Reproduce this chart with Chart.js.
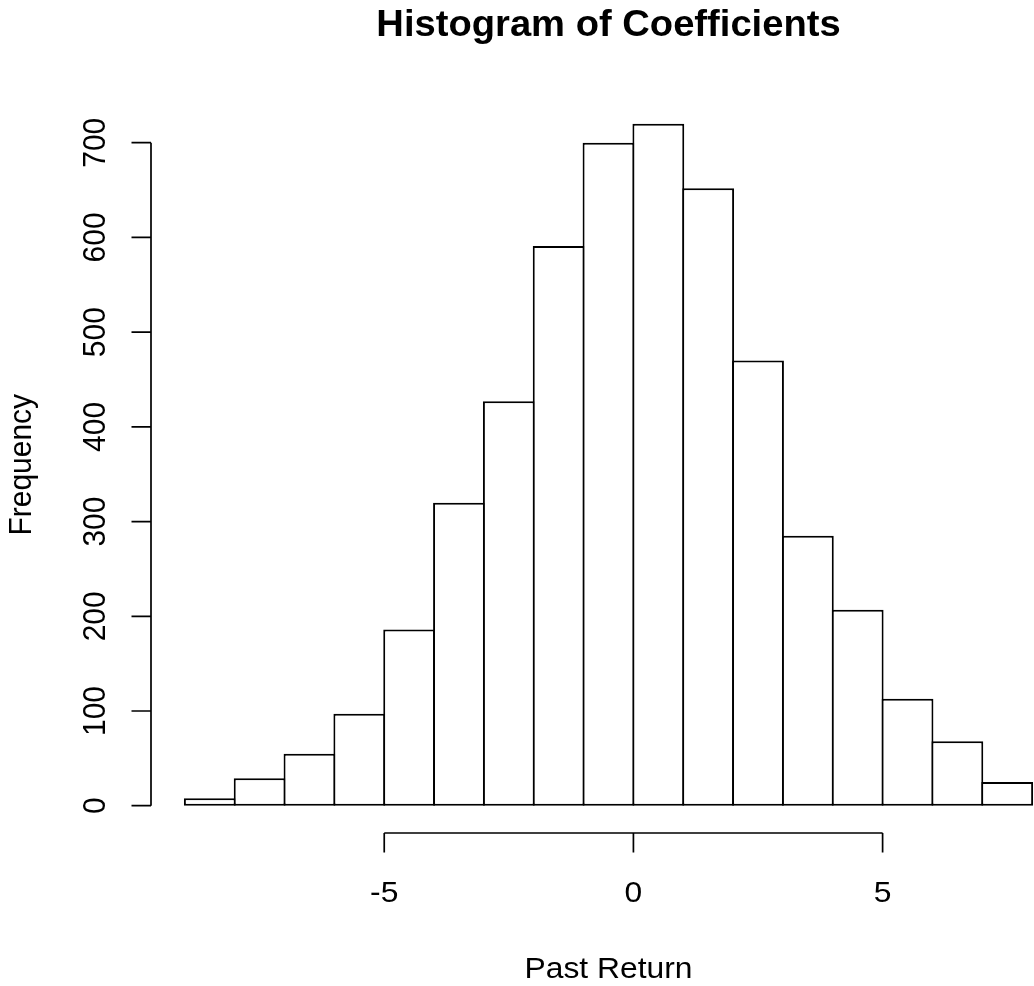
<!DOCTYPE html>
<html>
<head>
<meta charset="utf-8">
<script src="https://cdn.jsdelivr.net/npm/chart.js@4/dist/chart.umd.min.js"></script>
<style>
  html, body { margin: 0; padding: 0; background: #fff; overflow: hidden; }
  #wrap { width: 1100px; height: 986px; }
</style>
</head>
<body>
<div id="wrap"><canvas id="c" width="1100" height="986"></canvas></div>
<script>
// ---- data ----
const breaks = [-9, -8, -7, -6, -5, -4, -3, -2, -1, 0, 1, 2, 3, 4, 5, 6, 7, 8];
const counts = [8, 29, 55, 97, 186, 320, 427, 591, 700, 720, 652, 470, 285, 207, 113, 68, 25];
const xTicks = [-5, 0, 5];
const xTickLabels = ['-5', '0', '5'];
const yTicks = [0, 100, 200, 300, 400, 500, 600, 700];
const yTickLabels = ['0', '100', '200', '300', '400', '500', '600', '700'];
const titleText = 'Histogram of Coefficients';
const xTitle = 'Past Return';
const yTitle = 'Frequency';

// R-style 4% axis extension
const xRange = breaks[breaks.length - 1] - breaks[0];
const xMin = breaks[0] - 0.04 * xRange;
const xMax = breaks[breaks.length - 1] + 0.04 * xRange;
const yTop = Math.max(...counts);
const yMin = -0.04 * yTop;
const yMax = yTop * 1.04;

const points = counts.map((c, i) => ({ x: (breaks[i] + breaks[i + 1]) / 2, y: c }));

const FONT = '"Liberation Sans", Arial, Helvetica, sans-serif';
const SX = 1.06; // horizontal glyph stretch of the reference

function stretchedText(ctx, text, x, y, rot) {
  ctx.save();
  ctx.translate(x, y);
  ctx.scale(SX, 1);
  if (rot) ctx.rotate(rot);
  ctx.fillText(text, 0, 0);
  ctx.restore();
}

const rAxes = {
  id: 'rAxes',
  afterDraw(chart) {
    const ctx = chart.ctx;
    const xs = chart.scales.x, ys = chart.scales.y;
    const ca = chart.chartArea;
    ctx.save();
    ctx.strokeStyle = '#000';
    ctx.fillStyle = '#000';
    ctx.lineWidth = 1.7;
    ctx.lineCap = 'butt';

    // y axis
    const axX = ca.left;
    const y0 = ys.getPixelForValue(yTicks[0]);
    const y1 = ys.getPixelForValue(yTicks[yTicks.length - 1]);
    ctx.beginPath();
    ctx.moveTo(axX, y0); ctx.lineTo(axX, y1);
    yTicks.forEach(v => {
      const p = ys.getPixelForValue(v);
      ctx.moveTo(axX, p); ctx.lineTo(axX - 19.5, p);
    });
    ctx.stroke();
    ctx.font = '30px ' + FONT;
    ctx.textAlign = 'center';
    ctx.textBaseline = 'alphabetic';
    yTicks.forEach((v, i) => {
      stretchedText(ctx, yTickLabels[i], 105, ys.getPixelForValue(v), -Math.PI / 2);
    });

    // x axis
    const axY = ca.bottom;
    const xa = xs.getPixelForValue(xTicks[0]);
    const xb = xs.getPixelForValue(xTicks[xTicks.length - 1]);
    ctx.beginPath();
    ctx.moveTo(xa, axY); ctx.lineTo(xb, axY);
    xTicks.forEach(v => {
      const p = xs.getPixelForValue(v);
      ctx.moveTo(p, axY); ctx.lineTo(p, axY + 19.5);
    });
    ctx.stroke();
    xTicks.forEach((v, i) => {
      stretchedText(ctx, xTickLabels[i], xs.getPixelForValue(v), 902, 0);
    });

    // axis titles
    const cx = (ca.left + ca.right) / 2;
    const cy = (ca.top + ca.bottom) / 2;
    stretchedText(ctx, xTitle, cx, 978, 0);
    stretchedText(ctx, yTitle, 31, cy, -Math.PI / 2);

    // main title
    ctx.font = 'bold 36px ' + FONT;
    stretchedText(ctx, titleText, cx, 36, 0);
    ctx.restore();
  }
};

new Chart(document.getElementById('c'), {
  type: 'bar',
  data: {
    datasets: [{
      data: points,
      backgroundColor: '#ffffff',
      borderColor: '#000000',
      borderWidth: 2,
      borderSkipped: false,
      inflateAmount: 0,
      barPercentage: 1.04,
      categoryPercentage: 1
    }]
  },
  options: {
    responsive: false,
    animation: false,
    devicePixelRatio: 1,
    layout: { padding: { left: 151, right: 34, top: 96.5, bottom: 153 } },
    plugins: { legend: { display: false }, tooltip: { enabled: false }, title: { display: false } },
    scales: {
      x: {
        type: 'linear', display: false, min: xMin, max: xMax, offset: false,
        afterBuildTicks: s => { s.ticks = xTicks.map(v => ({ value: v })); }
      },
      y: {
        type: 'linear', display: false, min: yMin, max: yMax,
        afterBuildTicks: s => { s.ticks = yTicks.map(v => ({ value: v })); }
      }
    }
  },
  plugins: [rAxes]
});
</script>
</body>
</html>
